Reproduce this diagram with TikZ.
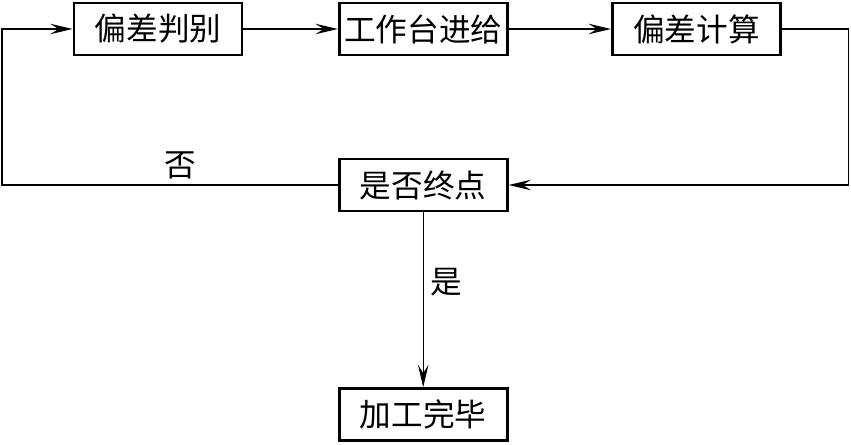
\documentclass[tikz,border=0pt]{standalone}
\usepackage{fontspec}
\setmainfont{Noto Sans CJK SC}
\usetikzlibrary{arrows.meta}

\begin{document}
\begin{tikzpicture}[box/.style={draw,line width=2pt,minimum width=4.2cm,minimum height=1.3cm,inner sep=0pt,font=\fontsize{22.5}{22.5}\selectfont},
  arr/.style={line width=0.9pt,-{Stealth[length=16pt,width=7.5pt,inset=6pt]}},
  lbl/.style={font=\fontsize{22.5}{22.5}\selectfont}]
\useasboundingbox (0,0) rectangle (21.275,11.125);

\node[box] at (3.95,10.4) (judge) {偏差判别};
\node[box] at (10.58,10.4) (feed) {工作台进给};
\node[box] at (17.41,10.4) (calc) {偏差计算};
\node[box] at (10.58,6.5) (check) {是否终点};
\node[box] at (10.58,0.76) (done) {加工完毕};

\coordinate (rtop) at (21.22,10.4);
\coordinate (rbot) at (21.22,6.5);
\coordinate (ltop) at (0.05,10.4);
\coordinate (lbot) at (0.05,6.5);

\draw[arr] (judge) -- (feed);
\draw[arr] (feed) -- (calc);
\draw[arr] (calc) -- (rtop) -- (rbot) -- (check);
\draw[arr] (check) -- (lbot) -- (ltop) -- (judge);
\draw[arr] (check) -- (done);

\node[lbl] at (4.52,7.0) (no) {否};
\node[lbl] at (11.17,4.07) (yes) {是};
\end{tikzpicture}
\end{document}
